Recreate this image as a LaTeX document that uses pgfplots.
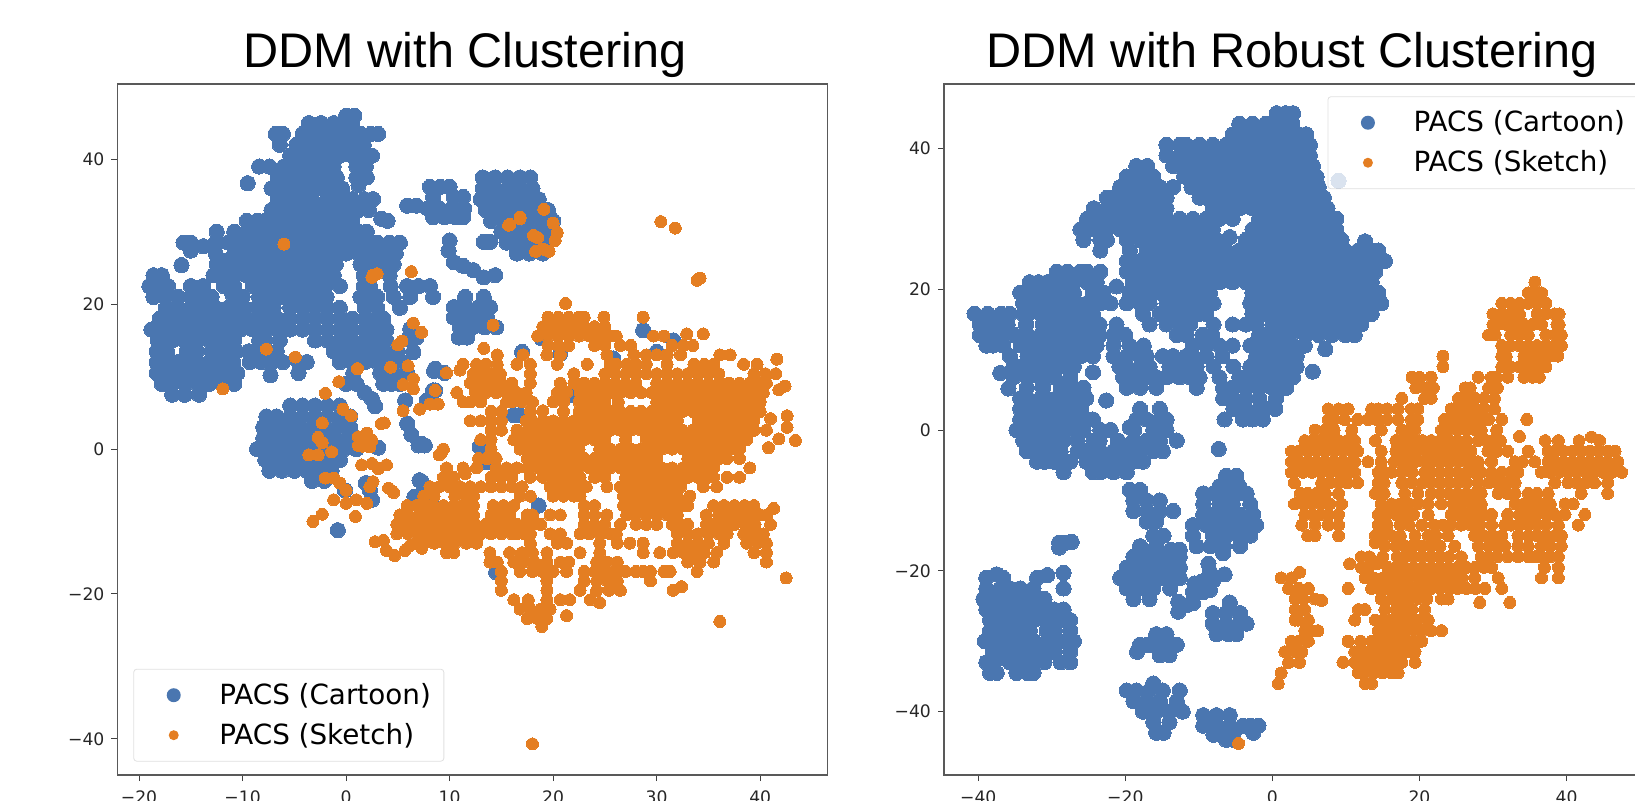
\documentclass[border=0pt]{standalone}
\usepackage{pgfplots}
\pgfplotsset{compat=1.18}
\usepackage{fontspec}
\setmainfont{DejaVu Sans}
\newfontfamily\titlefont{Liberation Sans}
\definecolor{cblue}{HTML}{4A76B0}
\definecolor{corange}{HTML}{E47E22}
\pgfplotsset{
 chart/.style={scale only axis,width=355pt,height=345.5pt,anchor=south west,
  axis line style={draw=black!65,line width=0.85pt},
  tick style={draw=black!75,line width=0.5pt},
  major tick length=3pt,tick align=outside,xtick pos=bottom,ytick pos=left,
  tick label style={font=\fontsize{8.6}{10}\selectfont,text=black!85},
  xticklabel style={yshift=-1.5pt},
  legend cell align=left,
  legend style={draw=black!12,rounded corners=1.5pt,fill=white,fill opacity=0.8,text opacity=1,
    font=\fontsize{13.9}{16}\selectfont,inner xsep=5pt,inner ysep=3pt,
    nodes={inner sep=1.5pt,minimum height=20pt}},
 },
 bl/.style={only marks,mark=*,mark size=3.8pt,color=cblue,mark options={draw=cblue,fill=cblue,line width=0pt},
   legend image code/.code={\path[draw=none,fill=none] (0,0) -- (36.3pt,0);\path[draw=none,fill=cblue,fill opacity=1] (15pt,0) circle (3.5pt);}},
 or/.style={only marks,mark=*,mark size=3pt,color=corange,mark options={draw=corange,fill=corange,line width=0pt},
   legend image code/.code={\path[draw=none,fill=none] (0,0) -- (36.3pt,0);\path[draw=none,fill=corange,fill opacity=1] (15pt,0) circle (2.5pt);}},
}
\begin{document}
\begin{tikzpicture}[x=1pt,y=1pt]
\path[use as bounding box] (0,0) rectangle (817.5,400);
\begin{axis}[chart,at={(58.75pt,12.5pt)},xmin=-22.08,xmax=46.5,ymin=-45,ymax=50.4,
 xtick={-20,-10,0,10,20,30,40},xticklabels={−20,−10,0,10,20,30,40},
 ytick={-40,-20,0,20,40},yticklabels={−40,−20,0,20,40},
 legend style={at={(axis cs:-20.55,-43.15)},anchor=south west}]
\addplot[bl] coordinates {
(0,46)(.8,46)
(-3.6,45)(-2.4,45)(-1.2,45)(0,45)(.6,45)
(-6.8,43.5)(-6.1,43.5)(-4.2,43.5)(-3,43.5)(-1.8,43.5)(-.6,43.5)(.6,43.5)(1.4,43.5)(2.4,43.5)(3.1,43.5)
(-6.4,42)(-4.8,42)(-3.6,42)(-2.4,42)(-1.2,42)(0,42)(1.2,42)(1.7,42)
(-5.4,40.5)(-4.2,40.5)(-3,40.5)(-1.8,40.5)(-.6,40.5)(.6,40.5)(1.8,40.5)(2.5,40.5)
(-8.4,39)(-7.4,39)(-6,39)(-4.8,39)(-3.6,39)(-2.4,39)(-1.2,39)(1,39)(1.9,39)
(-6.6,37.5)(-5.4,37.5)(-4.2,37.5)(-3,37.5)(-1.8,37.5)(-.9,37.5)(1,37.5)(2,37.5)
(-9.5,36.7)(-7.2,36)(-6,36)(-4.8,36)(-3.6,36)(-2.4,36)(-1.2,36)(-.4,36)(1.2,36.4)
(-6.6,34.5)(-5.4,34.5)(-4.2,34.5)(-3.3,34.5)(-1.8,34.5)(-.6,34.5)(.6,34.5)(1.8,34.5)(2.6,34.5)
(-7.2,33)(-6,33)(-4.8,33)(-3.6,33)(-2.4,33)(-1.2,33)(0,33)(1.2,33)(2.2,33)
(-9.6,31.5)(-8.6,31.5)(-7.8,31.5)(-6.6,31.5)(-5.4,31.5)(-4.2,31.5)(-3,31.5)(-1.8,31.5)(-.6,31.5)(.6,31.5)(3.4,31.8)(4,31.5)
(-12.5,30)(-10.8,30)(-9.6,30)(-8.4,30)(-7.2,30)(-6,30)(-4.8,30)(-3.6,30)(-2.4,30)(-1.2,30)(0,30)(1.2,30)(2,30)
(-15.7,28.5)(-15,28.5)(-13.8,28)(-12.6,28.5)(-11.4,28.5)(-10.2,28.5)(-9,28.5)(-7.8,28.5)(-6.6,28.5)(-5.4,28.5)(-4.2,28.5)(-3,28.5)(-1.8,28.5)(-.6,28.5)(.6,28.5)(1.8,28.5)(3,28.5)(4.2,28.5)(5.2,28.5)
(-15,27.4)(-12.6,27)(-10.8,27)(-9.6,27)(-8.4,27)(-7.2,27)(-6,27)(-4.8,27)(-3.6,27)(-2.4,27)(-1.2,27)(0,27)(1.2,27)(2.4,27)(3.6,27)(4.8,27)
(-15.9,25.4)(-12.5,25.5)(-10.2,25.5)(-9,25.5)(-7.8,25.5)(-6.6,25.5)(-5.4,25.5)(-4.2,25.5)(-3,25.5)(-1.8,25.5)(-1,25.5)(1.4,25.5)(2.4,25.5)(3.6,25.5)(4.6,25.5)
(-18.6,24)(-17.8,24)(-12.8,24)(-11.8,24)(-9.6,24)(-8.4,24)(-7.2,24)(-6,24)(-4.8,24)(-3.6,24)(-2.4,24)(-1.2,24)(1.7,24)(4.2,24)
(-19,22.5)(-17.9,22.5)(-17.2,22.5)(-15,22.5)(-13.8,22.5)(-11.8,22.5)(-9,22.5)(-7.8,22.5)(-6.6,22.5)(-5.4,22.5)(-4.2,22.5)(-3,22.5)(-2,22.5)(-.6,22.5)(1.7,22.5)(2.3,22.5)(4.3,22.5)(5.9,22.5)(7,22.5)(8.1,22.5)
(-18.6,21)(-17.4,21)(-16.2,21)(-15,21)(-13.8,21)(-13,21)(-8.4,21)(-7.2,21)(-6,21)(-4.8,21)(-3.6,21)(-2.4,21)(-1.9,21)(1.4,21)(2.4,21)(3,21)(4.6,21)(6.2,21)(8.4,21)
(-17.4,19.5)(-16.2,19.5)(-15,19.5)(-13.8,19.5)(-12.6,19.5)(-11.4,19.5)(-10.8,19.5)(-7,19.5)(-5.4,19.5)(-4.2,19.5)(-3,19.5)(-1.8,19.5)(-.6,19.5)(1.8,19.5)(3,19.5)(5.2,19.5)
(-18,18)(-16.8,18)(-15.6,18)(-14.4,18)(-13.2,18)(-12,18)(-10.8,18)(-9.6,18)(-8.4,18)(-6.6,18)(-5.4,18)(-4.2,18)(-3,18)(-1.8,18)(-.6,18)(.6,18)(1.8,18)(3,18)(3.6,18)
(-18.8,16.5)(-17.4,16.5)(-16.2,16.5)(-15,16.5)(-13.8,16.5)(-12.6,16.5)(-11.4,16.5)(-10.2,16.5)(-9,16.5)(-6.6,16.5)(-5.4,16.5)(-4.2,16.5)(-3,16.5)(-1.8,16.5)(-.6,16.5)(.6,16.5)(1.8,16.5)(3,16.5)(3.9,16.5)(6.2,16.6)
(-18.2,15)(-16.8,15)(-15.6,15)(-14.4,15)(-13.2,15)(-12,15)(-10.8,15)(-8.4,15)(-6.4,15)(-3,15)(-1.8,15)(-.6,15)(.6,15)(1.8,15)(3,15)(3.9,15)(6,15.2)(6.8,15.4)
(-18.3,13.5)(-17.3,13.5)(-15.4,13.5)(-14.4,13.5)(-13,13.5)(-11.8,13.5)(-10.6,13.5)(-9.4,13.5)(-8.3,13.5)(-7.7,13.5)(-6.7,13.5)(-1.2,13.5)(0,13.5)(1.2,13.5)(2.4,13.5)(3.6,13.5)(5,13.5)(6.5,13.4)
(-18.3,12)(-17.2,12)(-16.3,12)(-15.4,12)(-14.4,12)(-13.2,12)(-12,12)(-10.9,12)(-9.3,12)(-8.2,12)(-7.2,12)(-6.1,12)(-4.6,12)(-3.8,12)(-.6,12)(.6,12)(1.8,12)(3,12)(4.2,12)(5.5,12)
(-18.3,10.5)(-17.2,10.5)(-16,10.5)(-14.8,10.5)(-13.6,10.5)(-12.4,10.5)(-11.2,10.5)(-10.5,10.5)(-7.3,10.2)(-4.6,10.5)(.7,10.5)(3.3,10.5)(4.5,10.5)(5.9,10.5)(8.5,10.8)(9.5,10.5)
(-17.8,9)(-16.8,9)(-15.6,9)(-14.4,9)(-13.2,9)(-12,9)(-10.8,9)(0,9)(1,9)(3.6,9)(4.4,9)(5.2,9)
(-16.8,7.5)(-15.6,7.5)(-14.2,7.5)(1.8,7.8)(2.5,6.9)(2.8,5.9)(5.7,6.7)(8.6,8.1)(8,6.5)(5.9,3.5)(6.3,2)(7,.5)(7.6,.5)(3.1,.2)
(-10.8,24)(-10.8,22.5)(-10,21)(-11,21.4)(-9.8,19.5)(-8.6,19.5)(-7.8,19.5)(-7.6,18)(-7.6,16.5)(-7.8,15)(-11.8,26)(-10.4,25.5)(-11.2,24.7)
(5.9,33.6)(6.8,33.6)(8.1,36.2)(9.1,36.2)(10,36.2)(8.4,34.8)(10.4,34.8)(11.3,34.8)(7.9,33.2)(9,33.2)(10.2,33.2)(11.4,33.2)(8.4,32)(9.5,32)(10.6,32)(11.3,32)
(13.3,28.6)(13.9,28.6)(10,28.8)(9.9,27.4)(10.4,25.8)(11.3,25.3)(12.3,24.7)(13.3,23.7)(14.4,24)
(11.5,21)(13.3,21)(10.4,19.6)(11.6,19.6)(12.8,19.6)(13.9,19.6)(10.4,18.2)(11.5,18.2)(12.6,18.2)(13.6,18.2)(11,16.8)(12.2,16.8)(13.4,16.8)(14.5,16.8)(10.9,15.4)(11.7,15.4)
(13.2,37.5)(14.4,37.5)(15.6,37.5)(16.8,37.5)(17.8,37.5)(13.2,36)(14.4,36)(15.6,36)(16.8,36)(18,36)(13,34.5)(14.2,34.5)(15.4,34.5)(16.6,34.5)(17.8,34.5)(18.6,34.5)
(13.5,33)(14.7,33)(15.9,33)(17.1,33)(18.3,33)(19.5,33)(14,31.5)(15.2,31.5)(16.4,31.5)(17.6,31.5)(18.8,31.5)(20,31.5)(15,30)(16.2,30)(17.4,30)(18.6,30)(19.8,30)(15.5,28.5)(16.7,28.5)(17.9,28.5)(19,28.5)(16.5,27)(17.7,27)(19,27)
(-5.4,6)(-4.2,6)(-3,6)(-1.8,6)(-.6,6)(-7.7,4.5)(-6.7,4.5)(-5.4,4.5)(-4.2,4.5)(-3,4.5)(-1.8,4.5)(-.6,4.5)(.4,4.5)
(-8,3)(-6.8,3)(-5.6,3)(-4.4,3)(-3.2,3)(-2,3)(-.8,3)(.4,3)(-8,1.5)(-7.1,1.5)(-5.9,1.5)(-4.7,1.5)(-3.5,1.5)(-2.3,1.5)(-1.1,1.5)(.2,1.5)
(-8.6,0)(-7.4,0)(-6.2,0)(-5,0)(-3.8,0)(-2.6,0)(-1.4,0)(-.2,0)(1,0)(-7.8,-1.5)(-6.6,-1.5)(-5.4,-1.5)(-4.2,-1.5)(-3,-1.5)(-1.8,-1.5)(-.6,-1.5)
(-7.4,-3)(-6.2,-3)(-5,-3)(-3.8,-3)(-2.6,-3)(-1.4,-3)(-3.3,-4.4)(-2.1,-4.4)
(12.9,.3)(13.6,-1.5)(7.3,-4.5)(1.9,-4.7)(2.3,-5.7)(-.1,-5.7)(2.5,-7)(6.6,-6.6)(8.4,-7.7)(-.8,-11.2)(14.5,-17)
(28.7,16.4)(31.6,15)(30,13.4)(25.8,12.5)(17,13.4)(20.7,13.2)(18.9,15.3)(8.6,11.1)(8.4,8.1)(7.8,6.7)(16.2,4.7)(16.8,4.7)(22,7.4)(13,.3)(13.6,-1.8)(18.6,-7.8)(8.4,-8)(7.3,.7)(7.1,-4.3)(7.3,-6.2)
};
\addlegendentry{PACS (Cartoon)}
\addplot[or] coordinates {
(-6,28.3)(2.5,23.7)(3,24.2)(6.3,24.5)(-11.9,8.3)(-7.7,13.8)(-4.9,12.7)(1.1,11.1)(-.7,9.3)(-2,7.7)(4.3,11.3)(6,11.5)(6.5,17.4)(7.3,16.1)(5,14.4)(5.4,14.9)(9.7,10.5)(5.5,8.9)(6.5,9.7)(6.5,8.3)(8.6,8.1)(8.1,6.2)(8.9,6.2)(5.5,5.3)(7.1,5.5)(-.3,5.5)(.5,4.6)(-2.3,3.6)(-2.7,1.6)(-2.3,.9)(-1.4,-.4)(1.2,1.7)(2,2.2)(2.5,1.2)(1.6,.4)(2.3,.3)(1.2,.5)(1.7,1.2)(3.4,3.5)(3.7,3.6)(9.2,-.5)(14.2,17.1)(15.8,31)(16.8,32)
(15.7,30.9)(16.8,31.8)(19.1,33.1)(18.1,29.5)(20,31.2)(20.4,29.9)(20.2,28.8)(19.6,27.3)(19,27.6)(18.3,27.3)(18.5,29.2)(30.4,31.4)(31.8,30.5)(2.6,24)(21.2,20.1)
(33.9,23.3)(34.2,23.6)(18,-40.7)(42.5,-17.8)(36.1,-23.8)
(-3.6,-.8)(-2.7,-.8)(-2,-4)(-1.2,-4)(-.6,-4.7)(0,-5.7)(-1.2,-7)(0,-7.5)(1,-7)(2,-7.5)(2.3,-5.2)(2.6,-4.5)(.9,-9.3)(-2.3,-9)(-3.2,-10)(4.6,-6)(4.1,-5.4)(1.5,-2.2)(2.5,-2)(3.1,-2.7)(3.9,-2.2)
(2.8,-12.8)(3.6,-12.6)(3.9,-14)(4.7,-14.7)(5.7,-14)(6.2,-13.3)(7.3,-13.7)(8,-12.6)
(19.5,18.2)(20.5,18.2)(21.5,18.2)(22.5,18.2)(23,18.2)(24.9,18.2)(28.7,18.2)
(19,16.9)(20,16.9)(21,16.9)(22,16.9)(23,16.9)(24,16.9)(25,16.9)
(18.5,15.6)(19.5,15.6)(20.5,15.6)(21.5,15.6)(22.5,15.6)(23.5,15.6)(24.5,15.6)(25.5,15.6)(26.1,15.6)(29.7,15.6)(30.7,15.6)(32.9,15.9)(34.5,15.9)
(19.5,14.3)(20.5,14.3)(21.5,14.3)(24,14.3)(25,14.3)(26.5,14.3)(27.5,14.3)(31.5,14.3)(32.6,14.3)(33.5,14.3)
(13.3,13.9)(14.6,13)(17.1,13)(19.4,13)(20.7,13)(25.2,13)(27.8,13)(29,13)(30,13)(31,13)(32.3,13)(36.1,13)(37.1,13)
(11.3,11.7)(12.6,11.7)(13.5,11.7)(14.6,11.7)(16.5,11.7)(17.8,11.7)(20.4,11.7)(23.3,11.7)(25.5,11.7)(26.1,11.7)(27.1,11.7)(28,11.7)(29,11.7)(31,11.7)(33.6,11.7)(34.6,11.7)(35.5,11.7)(38.4,11.7)(39.7,11.7)(41.6,12.4)
(11,10.9)(12.3,10.4)(13.3,10.4)(14.3,10.4)(14.9,10.4)(17.8,10.4)(22,10.4)(25,10.4)(26,10.4)(27,10.4)(28,10.4)(29,10.4)(30,10.4)(31,10.4)(32,10.4)(33,10.4)(34,10.4)(35,10.4)(36,10.4)(39.4,10.4)(40.5,10.4)(41.5,10.4)
(12,9.1)(13,9.1)(14,9.1)(15,9.1)(16,9.1)(17.8,9.1)(20.7,9.1)(22,9.1)(23,9.1)(24,9.1)(25,9.1)(26,9.1)(27,9.1)(28,9.1)(30,9.1)(31,9.1)(32,9.1)(33,9.1)(34,9.1)(35,9.1)(36,9.1)(37,9.1)(38,9.1)(39,9.1)(40,9.1)(40.6,9.1)
(10.7,7.8)(12.5,7.8)(13.5,7.8)(14.5,7.8)(15.5,7.8)(16.5,7.8)(17.4,7.8)(20.4,7.8)(21.3,7.8)(22.6,7.8)(23.5,7.8)(24.5,7.8)(25.5,7.8)(26.5,7.8)(27.5,7.8)(28.5,7.8)(29.5,7.8)(30.5,7.8)(31.5,7.8)(32.5,7.8)(33.5,7.8)(34.5,7.8)(35.5,7.8)(36.5,7.8)(37.5,7.8)(38.5,7.8)(39.5,7.8)(40.3,7.8)(41.8,8.2)(42.4,8.7)
(11.3,6.5)(12,6.5)(13,6.5)(15.5,6.5)(16,6.5)(17,6.5)(18,6.5)(20,6.5)(21,6.5)(22.5,6.5)(23,6.5)(24,6.5)(25,6.5)(26.3,6.5)(30,6.5)(31,6.5)(32,6.5)(33,6.5)(34,6.5)(35,6.5)(36,6.5)(37,6.5)(38,6.5)(39,6.5)(40,6.5)
(14,5.2)(15,5.2)(17.8,5.2)(19,5.3)(21,5.2)(22.5,5.2)(23.5,5.2)(24.5,5.2)(25.5,5.2)(26.5,5.2)(27.5,5.2)(28.5,5.2)(29.5,5.2)(30.5,5.2)(31.5,5.2)(32.5,5.2)(33.5,5.2)(34.5,5.2)(35.5,5.2)(36.5,5.2)(37.5,5.2)(38.5,5.2)(39.5,5.2)(40,5.2)(41,4.2)(42.6,4.6)
(12,3.9)(13,3.9)(14,3.9)(15,3.9)(17.4,3.9)(18,3.9)(19,3.9)(20,3.9)(21,3.9)(22,3.9)(23,3.9)(24,3.9)(25,3.9)(26,3.9)(27,3.9)(28,3.9)(29,3.9)(30,3.9)(31,3.9)(32,3.9)(34,3.9)(35,3.9)(36,3.9)(37,3.9)(38,3.9)(39,3.9)(39.4,3.9)
(14,2.6)(15,2.6)(16.5,2.6)(17.5,2.6)(18.5,2.6)(19.5,2.6)(20.5,2.6)(21.5,2.6)(22.5,2.6)(23.5,2.6)(24.5,2.6)(25.5,2.6)(26.5,2.6)(27.5,2.6)(28.5,2.6)(29.5,2.6)(30.5,2.6)(31.5,2.6)(32.5,2.6)(33.5,2.6)(34.5,2.6)(35.5,2.6)(36.5,2.6)(37.5,2.6)(38.5,2.6)(39.4,2.6)(40.6,2.6)(42.6,3)
(13,1.3)(14,1.3)(16.2,1.3)(17,1.3)(18,1.3)(19,1.3)(20,1.3)(21,1.3)(22,1.3)(23,1.3)(24,1.3)(25,1.3)(27,1.3)(29,1.3)(30,1.3)(31,1.3)(32,1.3)(33,1.3)(34,1.3)(35,1.3)(36,1.3)(37,1.3)(38,1.3)(38.7,1.3)(41.8,1.4)(43.4,1.2)
(9.4,0)(9,-.8)(14,0)(16.8,0)(17.5,0)(18.5,0)(19.5,0)(20.5,0)(21.5,0)(22.5,0)(24.5,0)(25.5,0)(26.5,0)(27.5,0)(28.5,0)(29.5,0)(30.5,0)(31.5,0)(32.5,0)(33.5,0)(34.5,0)(35.5,0)(36.5,0)(37.5,0)(38,0)(40.8,.2)
(12.8,-1.3)(13.6,-1.3)(14.5,-1.3)(17.5,-1.3)(18,-1.3)(19,-1.3)(20,-1.3)(21,-1.3)(22,-1.3)(23,-1.3)(24,-1.3)(25,-1.3)(26,-1.3)(27,-1.3)(28,-1.3)(29,-1.3)(30,-1.3)(33,-1.3)(34,-1.3)(35,-1.3)(36,-1.3)(36.8,-1.3)(38,-1.3)
(9.7,-2.6)(11.3,-2.6)(12.6,-2.6)(14.5,-2.6)(15.5,-2.6)(16.5,-2.6)(17.5,-2.6)(18.5,-2.6)(19.5,-2.6)(20.5,-2.6)(21.5,-2.6)(22.5,-2.6)(23.5,-2.6)(24.5,-2.6)(25.5,-2.6)(26.5,-2.6)(27.5,-2.6)(28.5,-2.6)(29.5,-2.6)(30.5,-2.6)(31.5,-2.6)(32.5,-2.6)(33.5,-2.6)(34.5,-2.6)(35.5,-2.6)(39,-2.6)
(9.4,-3.9)(10.4,-3.9)(11.5,-3.4)(14,-3.9)(15,-3.9)(16,-3.9)(17.8,-3.9)(19,-3.9)(20,-3.9)(21,-3.9)(22,-3.9)(22.6,-3.9)(24,-3.9)(25,-3.9)(27,-3.9)(28,-3.9)(29,-3.9)(30,-3.9)(31,-3.9)(32,-3.9)(33,-3.9)(34,-3.9)(35,-3.9)(35.5,-3.9)(36.8,-3.9)(38,-3.9)
(8.1,-5.2)(9,-5.2)(10,-5.2)(11,-5.2)(12,-5.2)(13,-5.2)(14,-5.2)(15,-5.2)(16,-5.2)(17,-5.2)(19.7,-5.2)(20.5,-5.2)(21.5,-5.2)(22.5,-5.2)(23.2,-5.2)(25.2,-5.2)(26.5,-5.2)(27.5,-5.2)(28.5,-5.2)(29.5,-5.2)(30.5,-5.2)(31.5,-5.2)(32.3,-5.2)(34.5,-5.2)(35.8,-5.2)
(7.5,-6.5)(8.5,-6.5)(10.5,-6.5)(11.5,-6.5)(12.3,-6.5)(16.8,-6.5)(17.8,-6.5)(20,-6.5)(21,-6.5)(22,-6.5)(22.6,-6.5)(26.8,-6.5)(28,-6.5)(29,-6.5)(30,-6.5)(31,-6.5)(32,-6.5)(33.2,-6.5)
(5.9,-7.8)(6.8,-7.8)(7.6,-7.8)(8.4,-7.8)(9.4,-7.8)(10.4,-7.8)(11.4,-7.8)(12.3,-7.8)(14.2,-7.8)(15.2,-7.8)(16.2,-7.8)(23,-7.8)(24,-7.8)(26.8,-7.8)(27.5,-7.8)(28.5,-7.8)(29.5,-7.8)(30.5,-7.8)(31.5,-7.8)(32.5,-7.8)(33,-7.8)(35.5,-7.8)(36.5,-7.8)(37.5,-7.8)(38.5,-7.8)(39.4,-7.8)(41.3,-8.2)
(5.2,-9.1)(6,-9.1)(7,-9.1)(8,-9.1)(9,-9.1)(10,-9.1)(11,-9.1)(12,-9.1)(12.3,-9.1)(14,-9.1)(15,-9.1)(15.8,-9.1)(17.5,-9.1)(18,-9.1)(19.7,-9.1)(20.7,-9.1)(23,-9.1)(24,-9.1)(25.2,-9.1)(27.1,-9.1)(28,-9.1)(29,-9.1)(30,-9.1)(31,-9.1)(32,-9.1)(34.8,-9.1)(36,-9.1)(37,-9.1)(38,-9.1)(39,-9.1)(40,-9.1)(40.6,-9.1)
(4.9,-10.4)(5.5,-10.4)(6.5,-10.4)(7.5,-10.4)(8.5,-10.4)(9.5,-10.4)(10.5,-10.4)(11.5,-10.4)(12.5,-10.4)(13.5,-10.4)(14.5,-10.4)(15.5,-10.4)(16.5,-10.4)(17.2,-10.4)(18,-10.4)(18.8,-10.4)(23,-10.4)(24,-10.4)(25,-10.4)(26.5,-10.4)(28,-10.4)(29,-10.4)(30,-10.4)(31.5,-10.4)(32.3,-10.4)(33,-10.4)(34.8,-10.4)(35.5,-10.4)(36.5,-10.4)(37.5,-10.4)(38.5,-10.4)(39.5,-10.4)(41,-10.4)
(4.9,-11.7)(6,-11.7)(7,-11.7)(8,-11.7)(9,-11.7)(10,-11.7)(11,-11.7)(12,-11.7)(13,-11.7)(14,-11.7)(15,-11.7)(16,-11.7)(16.5,-11.7)(17.2,-11.7)(17.8,-11.7)(19.7,-11.7)(20.7,-11.7)(22.6,-11.7)(23.5,-11.7)(24.5,-11.7)(25.5,-11.7)(26.1,-11.7)(32,-11.7)(33,-11.7)(34,-11.7)(35,-11.7)(36,-11.7)(36.8,-11.7)(38.4,-11.7)(39.4,-11.7)(40.3,-11.7)
(6.8,-13)(7.5,-13)(8.5,-13)(9.5,-13)(10.5,-13)(11.6,-13)(12.6,-13)(17.8,-13)(20.4,-13)(21.3,-13)(24.5,-13)(26.2,-13)(27.4,-13)(28.7,-13)(32,-13)(33,-13)(34,-13)(35,-13)(36.5,-13)(38.7,-13)(39.7,-13)(40.6,-13)
(9.7,-14.3)(10.4,-14.3)(13.9,-14.3)(15.8,-14.3)(17,-14.3)(18,-14.3)(19.4,-14.3)(22.6,-14.3)(24.5,-14.3)(28.7,-14.3)(30.3,-14.3)(31.6,-14.3)(32.6,-14.3)(33.6,-14.3)(34.6,-14.3)(35.8,-14.3)(39.4,-14.3)(40.6,-14.3)
(13.9,-15.6)(14.6,-15.6)(16.2,-15.6)(17.2,-15.6)(18.2,-15.6)(19.4,-15.6)(20.7,-15.6)(21.5,-15.6)(24.2,-15.6)(25.2,-15.6)(26.2,-15.6)(33,-15.6)(34.2,-15.6)(35.5,-15.6)(40.6,-15.6)
(15,-16.9)(16.8,-16.9)(18,-16.9)(19,-16.9)(20,-16.9)(21.3,-16.9)(23,-16.9)(24,-16.9)(25,-16.9)(26,-16.9)(27,-16.9)(28,-16.9)(28.7,-16.9)(29.4,-16.9)(30.7,-16.9)(31.3,-16.9)(33.9,-16.9)
(15,-18.2)(19.4,-18.2)(23,-18.2)(24.2,-18.2)(25.2,-18.2)(26.2,-18.2)(29.4,-18.2)
(15,-19.5)(19.4,-19.5)(22.6,-19.5)(24.2,-19.5)(25.4,-19.5)(26.5,-19.5)(31.6,-19.5)(32.4,-19)
(16.2,-20.8)(17.6,-20.8)(19.4,-20.8)(20.7,-20.8)(21.6,-20.8)(23.6,-20.8)(24.5,-21.2)
(16.8,-22.1)(17.8,-22.1)(18.8,-22.1)(19.7,-22.1)(17.5,-23.4)(18.5,-23.4)(19.4,-23.4)(21.3,-23)(18.9,-24.5)
};
\addlegendentry{PACS (Sketch)}
\end{axis}
\begin{axis}[chart,at={(472pt,12.5pt)},xmin=-44.66,xmax=51.9,ymin=-49,ymax=49.15,
 xtick={-40,-20,0,20,40},xticklabels={−40,−20,0,20,40},
 ytick={-40,-20,0,20,40},yticklabels={−40,−20,0,20,40},
 legend style={at={(axis cs:7.5,47.4)},anchor=north west}]
\addplot[bl] coordinates {
(.6,45)(1.8,45)(2.8,45)
(-4.5,43.5)(-2.7,43.5)(-.9,43.5)(.9,43.5)(2.7,43.5)
(-5.4,42)(-3.6,42)(-1.8,42)(0,42)(1.8,42)(3.6,42)(4.6,42)
(-14.4,40.5)(-12.6,40.5)(-11.7,40.5)(-9.9,40.5)(-8.1,40.5)(-6.3,40.5)(-4.5,40.5)(-2.7,40.5)(-.9,40.5)(.9,40.5)(2.7,40.5)(4.5,40.5)(5.1,40.5)
(-14.4,39)(-12.6,39)(-10.8,39)(-9,39)(-7.2,39)(-5.4,39)(-3.6,39)(-1.8,39)(0,39)(1.8,39)(3.6,39)(5.1,39)
(-18.5,37.5)(-17,37.5)(-13.5,37.5)(-11.7,37.5)(-9.9,37.5)(-8.1,37.5)(-6.3,37.5)(-4.5,37.5)(-2.7,37.5)(-.9,37.5)(.9,37.5)(2.7,37.5)(4.5,37.5)(5.5,37.5)
(-19.8,36)(-18,36)(-16.2,36)(-12,36)(-10.8,36)(-9,36)(-7.2,36)(-5.4,36)(-3.6,36)(-1.8,36)(0,36)(1.8,36)(3.6,36)(5.4,36)(6,36)
(-20.7,34.5)(-18.9,34.5)(-17.1,34.5)(-15.3,34.5)(-13.5,34.5)(-11,34.5)(-9.9,34.5)(-8.1,34.5)(-6.3,34.5)(-4.5,34.5)(-2.7,34.5)(-.9,34.5)(.9,34.5)(2.7,34.5)(4.5,34.5)(6.3,34.5)
(-22.5,33)(-21.6,33)(-19.8,33)(-18,33)(-16.2,33)(-14.4,33)(-9.9,33)(-9,33)(-7.2,33)(-5.4,33)(-3.6,33)(-1.8,33)(0,33)(1.8,33)(3.6,33)(5.4,33)(7,33)
(-24.3,31.5)(-22.5,31.5)(-20.7,31.5)(-18.9,31.5)(-17.1,31.5)(-15.3,31.5)(-14.4,31.5)(-8.1,31.5)(-6.3,31.5)(-4.5,31.5)(-2.7,31.5)(-.9,31.5)(.9,31.5)(2.7,31.5)(4.5,31.5)(6.3,31.5)(7.5,31.5)
(-25.2,30)(-23.4,30)(-21.6,30)(-19.8,30)(-18,30)(-16.2,30)(-14.4,30)(-12.6,30)(-10.8,30)(-9,30)(-7.2,30)(-5.4,30)(-1.8,30)(0,30)(1.8,30)(3.6,30)(5.4,30)(7.2,30)(8.7,30)
(-26.1,28.5)(-24.3,28.5)(-22.5,28.5)(-20.7,28.5)(-18.9,28.5)(-17.1,28.5)(-15.3,28.5)(-13.5,28.5)(-11.7,28.5)(-9.9,28.5)(-8.1,28.5)(-2.7,28.5)(-.9,28.5)(.9,28.5)(2.7,28.5)(4.5,28.5)(6.3,28.5)(8.1,28.5)(8.7,28.5)
(-25.7,27)(-23.4,27)(-22.5,27)(-19.8,27)(-18,27)(-16.2,27)(-14.4,27)(-12.6,27)(-10.8,27)(-9,27)(-7.6,27)(-5.8,27.4)(-3.6,27)(-1.8,27)(0,27)(1.8,27)(3.6,27)(5.4,27)(7.2,27)(9,27)(9.4,27)(12.6,26.8)
(-23.4,25.5)(-19.4,25.5)(-17.1,25.5)(-15.3,25.5)(-13.5,25.5)(-11.7,25.5)(-9.9,25.5)(-8.1,25.5)(-6.3,25.5)(-4.5,25.5)(-2.7,25.5)(-.9,25.5)(.9,25.5)(2.9,25.5)(4.5,25.5)(6.3,25.5)(8.1,25.5)(9.9,25.5)(11.7,25.5)(13.5,25.5)(14.4,25.5)
(-19.8,24)(-18,24)(-16.2,24)(-14.4,24)(-12.6,24)(-10.8,24)(-9,24)(-7.2,24)(-5.4,24)(-3.6,24)(-1.8,24)(0,24)(1.8,24)(3.6,24)(5.4,24)(7.2,24)(9,24)(10.8,24)(12.6,24)(14.4,24)(15.3,24)
(-29.3,22.5)(-27.9,22.5)(-26.1,22.5)(-25.2,22.5)(-23.4,22.5)(-19.8,22.5)(-18.9,22.5)(-17.1,22.5)(-15.3,22.5)(-13.5,22.5)(-11.7,22.5)(-9.9,22.5)(-8.1,22.5)(-6.3,22.5)(-4.5,22.5)(-2.7,22.5)(-.9,22.5)(.9,22.5)(2.7,22.5)(4.5,22.5)(6.3,22.5)(8.1,22.5)(9.9,22.5)(11.7,22.5)(13.5,22.5)(14,22.5)
(-33,21)(-31.8,21)(-30.6,21)(-28.8,21)(-27,21)(-25.2,21)(-23.9,21)(-21.2,20.4)(-19,21)(-17.6,21)(-16.2,21)(-14.4,21)(-12.6,21)(-10.8,21)(-9,21)(-7.2,21)(-5.4,21)(-3.6,21)(-1.8,21)(0,21)(1.8,21)(3.6,21)(5.4,21)(7.2,21)(9,21)(10.8,21)(12.6,21)(13.5,21)
(-34.3,19.5)(-33.3,19.5)(-31.5,19.5)(-29.7,19.5)(-27.9,19.5)(-27,19.5)(-24.4,19.5)(-23,19.5)(-19.4,19.5)(-18.2,19.5)(-17.1,19.5)(-15.3,19.5)(-13.5,19.5)(-11.7,19.5)(-9.9,19.5)(-8.5,19.5)(-2.7,19.5)(-.9,19.5)(.9,19.5)(2.7,19.5)(4.5,19.5)(6.3,19.5)(8.1,19.5)(9.9,19.5)(11.7,19.5)(13.5,19.5)(14.4,19.5)
(-33.9,18)(-32.4,18)(-30.6,18)(-28.8,18)(-28,18)(-26.5,18)(-25.2,18)(-23.4,18)(-22,18)(-19.8,18)(-18,18)(-16.7,18)(-14.4,18)(-12.6,18)(-10.8,18)(-9,18)(-8,18)(-3,18)(-1.8,18)(0,18)(1.8,18)(3.6,18)(5.4,18)(7.2,18)(9,18)(10.8,18)(12.6,18)(14.4,18)(14.8,18)
(-40.5,16.5)(-38.7,16.5)(-36.9,16.5)(-35.7,16.5)(-33.9,16.5)(-33.3,16.5)(-31.5,16.5)(-29.8,16.5)(-28.5,16.5)(-27.9,16.5)(-26.1,16.5)(-25.7,16.5)(-24.4,16.5)(-17.6,16.5)(-15.3,16.5)(-13.5,16.5)(-11.7,16.5)(-9.9,16.5)(-9,16.5)(-2.7,16.5)(-.9,16.5)(.9,16.5)(2.7,16.5)(4.5,16.5)(6.3,16.5)(8.1,16.5)(9.9,16.5)(11.7,16.5)(13.5,16.5)
(-39.8,15)(-37.8,15)(-36,15)(-33.5,15)(-31.2,15)(-29.8,15)(-28.8,15)(-27,15)(-25.2,15)(-23.5,15)(-21.2,15)(-16.7,15)(-14.4,15)(-12.6,15)(-11.2,15)(-8,15)(-5.4,15)(-3.6,15)(-2.2,15)(0,15)(1.8,15)(3.6,15)(5.4,15)(7.2,15)(9,15)(10.8,15)(12.1,15)
(-39.8,13.5)(-38.7,13.5)(-36.9,13.5)(-35.1,13.5)(-33.3,13.5)(-31.5,13.5)(-29.7,13.5)(-27.9,13.5)(-26.1,13.5)(-24.3,13.5)(-23.5,13.5)(-21.6,13.5)(-20,13.5)(-13,13.5)(-11.7,13.5)(-9.5,13.5)(-8.2,13.5)(-1.8,13.5)(-.9,13.5)(.9,13.5)(2.4,13.5)(4.5,13.5)(6.3,13.5)(8.1,13.5)(9.9,13.5)(11.2,13.5)
(-38.9,12)(-38,12)(-36.6,12)(-34.2,12)(-32.4,12)(-30.6,12)(-28.8,12)(-27,12)(-25.2,12)(-23.9,12)(-21.6,12)(-19.4,12)(-17.5,12)(-10.8,12)(-9,12)(-7.2,12)(-5.4,12)(-3,12)(-1.8,12)(0,12)(1.8,12)(2.8,12)(4.4,12)(7.2,11.5)
(-35.7,10.5)(-33.3,10.5)(-31.5,10.5)(-29.7,10.5)(-27.9,10.5)(-26.1,10.5)(-24.4,10.5)(-21.6,10.5)(-19.8,10.5)(-18,10.5)(-17.1,10.5)(-14.9,10.5)(-13.5,10.5)(-11.7,10.5)(-10.8,10.5)(-9,10.5)(-6.8,10.5)(-2.2,10.5)(-.9,10.5)(.9,10.5)(2.7,10.5)(3.3,10.5)
(-35.2,9)(-34.2,9)(-32.4,9)(-30.6,9)(-28.8,9)(-27,9)(-24.4,8.2)(-20.8,9)(-19.8,9)(-18,9)(-16.7,9)(-14,9)(-12.6,9)(-10.8,9)(-10.3,9)(-8,9)(-5.3,9)(-3,9)(-1.8,9)(0,9)(1.8,9)(3.3,9)(-37,8.1)(5.5,8.3)
(-35.2,7.5)(-33.3,7.5)(-31.5,7.5)(-29.7,7.5)(-27.5,7.5)(-20.3,7.5)(-18.9,7.5)(-17.1,7.5)(-15.8,7.5)(-14.4,7.5)(-12.6,7.5)(-11.2,7.5)(-9.9,7.5)(-7.2,7.5)(-4.5,7.5)(-2.7,7.5)(-.9,7.5)(.9,7.5)(2.8,7.5)
(-35.9,5.9)(-33.4,6)(-31.2,6)(-28.8,6)(-27,6)(-25.7,6)(-19.8,6)(-18,6)(-15.8,6)(-10.3,6)(-6.7,6)(-5.4,6)(-3.6,6)(-1.8,6)(0,6)(1.9,6)
(-34.3,4.5)(-33.3,4.5)(-31.5,4.5)(-30.7,4.5)(-29.4,4.5)(-28.4,4.5)(-27.5,4.5)(-26.6,4.5)(-25.3,4.5)(-22.6,4.2)(-6.7,4.5)(-5.3,4.5)(-3.6,4.5)(-1.8,4.5)(.5,4.5)
(-34.3,3)(-33.3,3)(-32.4,3)(-30.6,3)(-29.4,3)(-28.4,3)(-27,3)(-26,3)(-18,3)(-15.3,3)(-5.3,3)(-3.6,3)(-1.8,3)(-1,3)(.4,3)
(-34.3,1.5)(-33.3,1.5)(-31.5,1.5)(-29.7,1.5)(-28,1.5)(-27,1.5)(-25.3,1.5)(-24.4,1.5)(-18.5,1.5)(-17.1,1.5)(-15.3,1.5)(-14.4,1.5)(-6.5,1.5)(-4,1.5)(-2.7,1.5)(-1.3,1.5)
(-34.8,0)(-33.6,0)(-32.4,0)(-30.6,0)(-28.8,0)(-27,0)(-26,0)(-25.7,0)(-23.4,0)(-22,0)(-19.4,.4)(-18.8,0)(-16.2,0)(-14.4,0)
(-33.9,-1.5)(-32.4,-1.5)(-31.5,-1.5)(-30.6,-1.5)(-29.7,-1.5)(-28.4,-1.5)(-26.5,-1.5)(-24.3,-1.5)(-23.5,-1.5)(-21,-1.5)(-18.9,-1.5)(-17.1,-1.5)(-15.3,-1.5)(-13,-1.5)
(-33.4,-3)(-32.2,-3)(-31.2,-3)(-30,-3)(-28.8,-3)(-26.5,-3)(-25.2,-3)(-24.6,-3)(-23.4,-3)(-21.6,-3)(-19.8,-3)(-18,-3)(-16.2,-3)(-14.9,-3)(-7.3,-2.7)
(-32,-4.5)(-31,-4.5)(-29.7,-4.5)(-28.8,-4.5)(-27.5,-4.5)(-25.3,-4.5)(-24.3,-4.5)(-22.5,-4.5)(-20.7,-4.5)(-18.9,-4.5)(-17.6,-4.5)
(-28.4,-6)(-24.4,-6)(-23.4,-6)(-21.6,-6)(-19.8,-6)
(-19.4,-8.5)(-18,-8.5)(-18.9,-10)(-17.1,-10)(-15.3,-10)(-18.9,-11.5)(-17.1,-11.5)(-15.3,-11.5)(-13.5,-11.5)(-17.1,-13)(-15.8,-13)(-16.2,-15)(-14.8,-15)(-15.8,-16.5)
(-18,-16.5)(-17.6,-17)(-15.6,-17)(-13.8,-17)(-12.6,-17)(-18.9,-18)(-17.1,-18)(-15.3,-18)(-13.5,-18)(-12.6,-18)
(-19.8,-19.5)(-18,-19.5)(-16.2,-19.5)(-14.4,-19.5)(-12.6,-19.5)(-20.7,-21)(-18.9,-21)(-17.1,-21)(-15.3,-21)(-13.5,-21)(-12.6,-21)(-19.8,-22.5)(-18,-22.5)(-16.2,-22.5)(-13.9,-22.5)(-18.9,-24)(-16.7,-24)
(-6.3,-6.5)(-4.9,-6.5)(-7.2,-8)(-5.4,-8)(-4.5,-8)(-9.4,-9)(-8,-9)(-6.3,-9)(-4.5,-9)(-3.5,-9)
(-9.4,-10.5)(-7.2,-10.5)(-5.4,-10.5)(-3,-10.5)(-9.4,-12)(-8.1,-12)(-6.3,-12)(-4.5,-12)(-2.6,-12)(-10.8,-13.5)(-9,-13.5)(-7.2,-13.5)(-5.4,-13.5)(-3.6,-13.5)(-2.2,-13.5)
(-10.8,-15)(-8.1,-15)(-6.3,-15)(-4.5,-15)(-3,-15)(-10.3,-16.5)(-8.4,-16.5)(-6.6,-16.5)(-4.4,-16.5)(-6.7,-17.5)
(-8.7,-19)(-8.5,-20.1)(-6.5,-20.5)(-9.6,-21.5)(-8,-21.3)(-10.6,-21.8)(-9.4,-23)(-10.8,-23)(-8.5,-22.7)(-12.8,-24.4)(-11.7,-24.9)(-10.8,-24.6)(-12.8,-25.8)
(-5.8,-24.5)(-8.1,-26)(-6.3,-26)(-4.4,-26)(-8.1,-27.5)(-6.3,-27.5)(-4.5,-27.5)(-3.5,-27.5)(-7.6,-29)(-6,-29)(-4.9,-29)
(-15.8,-29)(-14.4,-29)(-18,-30.5)(-17,-30.5)(-16.7,-30.5)(-14.8,-30.5)(-13,-30.5)(-18.4,-31.5)(-15.3,-32)(-14,-32)
(-16.2,-36)(-19.8,-37)(-18.5,-37)(-16.7,-37)(-14.9,-37)(-12.6,-37)(-18.9,-38.5)(-17.1,-38.5)(-15.3,-38.5)(-13,-38.5)(-17.6,-40)(-15.8,-40)(-14,-40)(-12.2,-40)(-16.2,-41.5)(-14,-41.5)(-15.8,-43)(-14.8,-43)
(-9.4,-40.5)(-7.6,-40.5)(-5.8,-40.5)(-9.4,-42)(-7.6,-42)(-5.8,-42)(-4,-42)(-3,-42)(-1.9,-42)(-8,-43.3)(-6.5,-43.3)(-5.3,-43.3)(-2.6,-43)(-6.3,-44)(-5.3,-44)
(-29,-16)(-28,-16)(-27.3,-15.9)(-29,-16.7)
(-38.9,-21)(-37.5,-20.5)(-36.6,-21)(-32,-21)(-30.6,-20.6)(-28.4,-20.3)(-38.9,-22.5)(-37,-22.5)(-35.7,-22.5)(-34.3,-22.5)(-32.5,-22.5)(-28.4,-22.5)
(-39.3,-24)(-37.8,-24)(-36,-24)(-34.2,-24)(-33,-24)(-32,-24)(-31,-24)(-38.9,-25.5)(-36.9,-25.5)(-35.1,-25.5)(-33.3,-25.5)(-31.5,-25.5)(-29.7,-25.5)(-28.4,-25.5)
(-38.4,-27)(-37.2,-27)(-36,-27)(-34.2,-27)(-32.5,-27)(-30.7,-27)(-28.8,-27)(-27.5,-27)(-38.4,-28.5)(-36.9,-28.5)(-35.1,-28.5)(-33,-28.5)(-30.7,-28.5)(-29.7,-28.5)(-27.5,-28.5)
(-39.1,-30)(-37.8,-30)(-36,-30)(-34.2,-30)(-32.4,-30)(-30.6,-30)(-28.8,-30)(-27,-30)(-38,-31.5)(-36.9,-31.5)(-35.1,-31.5)(-33.3,-31.5)(-31.5,-31.5)(-29.7,-31.5)(-27.5,-31.5)
(-38.9,-33)(-37.8,-33)(-35.7,-33)(-34.2,-33)(-32.4,-33)(-31,-33)(-28.8,-33)(-27.5,-33)(-38.4,-34.5)(-37.5,-34.5)(-34.8,-34.5)(-33.3,-34.5)(-32.5,-34.5)
(9,35.4)
};
\addlegendentry{PACS (Cartoon)}
\addplot[or] coordinates {
(-4.6,-44.5)
(35.7,21)(34.8,19.5)(35.7,19.5)(36.6,19.5)(31.2,18)(32.4,18)(33.6,18)(34.8,18)(36,18)(37.2,18)
(30,16.5)(31.2,16.5)(32.4,16.5)(33.6,16.5)(36,16.5)(37.2,16.5)(38.4,16.5)(39,16.5)
(30,15)(30.6,15)(31.8,15)(33,15)(34.2,15)(35.4,15)(36.6,15)(38.7,15)(39,15)
(29.4,13.5)(30.3,13.5)(32.4,13.5)(33.6,13.5)(34.8,13.5)(37.2,13.5)(38.4,13.5)(39.3,13.5)
(31.2,12)(32.4,12)(33.6,12)(34.8,12)(36,12)(37.2,12)(38.4,12)(39.3,12)
(31.2,10.5)(31.8,10.5)(34.2,10.5)(35.4,10.5)(36.6,10.5)(37.8,10.5)(38.8,10.5)(23.2,10.5)
(23.2,9)(31.2,9)(32.4,9)(33.6,9)(34.8,9)(36,9)(37.2,9)
(32,7.5)(34.2,7.5)(35.4,7.5)(36.3,7.5)(19,7.5)(20,7.5)(21.6,7.5)(28,7.5)(29.8,7.5)(30.5,7.5)
(19.5,6)(20.7,6)(21.9,6)(26.2,6)(26.9,6)(29.4,6)(30.6,6)
(20.7,4.5)(21.6,4.5)(17.6,4.5)(25.3,4.5)(26.4,4.5)(27.6,4.5)(28.8,4.5)(30.2,4.5)
(7.6,3)(9,3)(10.3,3)(13.5,3)(14.4,3)(15.6,3)(17.1,3)(18.9,3)(19.8,3)(24.3,3)(25.2,3)(26.4,3)(27.6,3)(28.8,3)(30.2,3)
(7.6,1.5)(8.4,1.5)(9.8,1.5)(11.6,1.5)(13,1.5)(14.2,1.5)(15.6,1.5)(17.1,1.5)(18.9,1.5)(19.8,1.5)(23.4,1.5)(24.6,1.5)(25.8,1.5)(27,1.5)(28.2,1.5)(29.4,1.5)(31.2,1.5)(34.6,1.5)
(5.8,0)(7.2,0)(8.4,0)(10.8,0)(14.8,0)(17.6,0)(18.6,0)(19.4,0)(23,0)(24,0)(25.2,0)(26.4,0)(27.6,0)(28.4,0)(30.5,0)(33.6,-.9)
(4.4,-1.5)(5.4,-1.5)(6.6,-1.5)(7.8,-1.5)(9,-1.5)(10.2,-1.5)(11.2,-1.5)(14,-1.5)(16.8,-1.5)(18,-1.5)(19.2,-1.5)(20.4,-1.5)(21.6,-1.5)(22.8,-1.5)(24,-1.5)(25.2,-1.5)(26.4,-1.5)(28,-1.5)(29.1,-1.5)(30,-1.5)(31,-1.5)(37.1,-1.5)(38.9,-1.5)(41.7,-1.5)(43.4,-1)(44.5,-1.5)
(2.6,-3)(3.6,-3)(4.8,-3)(6,-3)(7.2,-3)(8.4,-3)(9.6,-3)(10.8,-3)(11.6,-3)(14.8,-3)(16.8,-3)(17.4,-3)(18.6,-3)(19.8,-3)(21,-3)(22.2,-3)(23.4,-3)(24.6,-3)(25.8,-3)(27,-3)(29.3,-3)(30.6,-3)(32,-3)(34.8,-3)(37.5,-3)(38.4,-3)(39.6,-3)(40.8,-3)(42,-3)(43.2,-3)(44.4,-3)(45.6,-3)(46.6,-3)
(2.6,-4.5)(3.6,-4.5)(4.8,-4.5)(6,-4.5)(7.2,-4.5)(8.4,-4.5)(9.6,-4.5)(10.8,-4.5)(11.2,-4.5)(13,-4.5)(14.8,-4.5)(16.6,-4.5)(18,-4.5)(19.4,-4.5)(20.7,-4.5)(21.6,-4.5)(22.8,-4.5)(24,-4.5)(25.2,-4.5)(26.4,-4.5)(27.4,-4.5)(28,-4.5)(29.8,-4.5)(33,-4.5)(34,-4.5)(35.7,-4.5)(37.5,-4.5)(38.4,-4.5)(39.6,-4.5)(40.8,-4.5)(42,-4.5)(43.2,-4.5)(44.4,-4.5)(45.6,-4.5)(47,-4.5)
(2.6,-6)(3,-6)(4.2,-6)(5.4,-6)(6.6,-6)(7.8,-6)(9,-6)(10.2,-6)(11.2,-6)(14.4,-6)(15.2,-6)(16.2,-6)(17.6,-6)(19,-6)(20.7,-6)(21.6,-6)(22.8,-6)(24,-6)(25.2,-6)(26.4,-6)(27.4,-6)(28.4,-6)(29.8,-6)(31.2,-6)(32.4,-6)(33.4,-6)(36.6,-6)(37.8,-6)(39,-6)(40.2,-6)(41.4,-6)(42.6,-6)(43.8,-6)(45,-6)(46.2,-6)(47.5,-6)
(3,-7.5)(6.7,-7.5)(7.8,-7.5)(9,-7.5)(10.2,-7.5)(11.6,-7.5)(14.4,-7.5)(15.2,-7.5)(17.6,-7.5)(19,-7.5)(20.4,-7.5)(21.6,-7.5)(22.8,-7.5)(24,-7.5)(25.2,-7.5)(26.4,-7.5)(28,-7.5)(29.4,-7.5)(30.6,-7.5)(31.6,-7.5)(33,-7.5)(38.4,-7.5)(40.2,-7.5)(41.4,-7.5)(42.6,-7.5)(43.8,-7.5)(45.6,-7.5)
(3.8,-9)(4.8,-9)(6,-9)(7.2,-9)(9,-9)(14,-9)(15.2,-9)(18,-9)(19.8,-9)(21.6,-9)(22.8,-9)(24,-9)(25.2,-9)(26.4,-9)(27.6,-9)(28.4,-9)(30.7,-9)(32,-9)(33,-9)(34.8,-9)(36,-9)(37.5,-9)(42,-9)(45.6,-9)
(3,-10.5)(4.2,-10.5)(5.4,-10.5)(6.6,-10.5)(7.8,-10.5)(9.4,-10.5)(14.8,-10.5)(16.2,-10.5)(17.4,-10.5)(18.6,-10.5)(19.8,-10.5)(21.2,-10.5)(23,-10.5)(24.6,-10.5)(25.8,-10.5)(27,-10.5)(28.4,-10.5)(33,-10.5)(34.2,-10.5)(35.4,-10.5)(36.6,-10.5)(37.8,-10.5)(39.8,-10.5)(40.9,-10.5)
(4.4,-12)(5.4,-12)(6.6,-12)(7.6,-12)(9,-12)(14.4,-12)(15.6,-12)(16.8,-12)(18,-12)(19.2,-12)(21.2,-12)(24.3,-12)(25.2,-12)(26.4,-12)(27.6,-12)(28.8,-12)(29.8,-12)(32,-12)(33.6,-12)(34.8,-12)(36,-12)(37.2,-12)(38.4,-12)(39.8,-12)(42.5,-12)
(4,-13.5)(5.8,-13.5)(7.6,-13.5)(9,-13.5)(14.4,-13.5)(15.6,-13.5)(17.4,-13.5)(18.6,-13.5)(20.3,-13.5)(22,-13.5)(23.2,-13.5)(24.3,-13.5)(25.7,-13.5)(27,-13.5)(28.2,-13.5)(29.8,-13.5)(31.6,-13.5)(32.4,-13.5)(33.6,-13.5)(34.8,-13.5)(36,-13.5)(37.2,-13.5)(38.9,-13.5)(41.6,-13.5)
(4.8,-15)(5.8,-15)(9,-15)(14,-15)(15,-15)(16.2,-15)(17.4,-15)(19.4,-15)(21.2,-15)(22.2,-15)(23.9,-15)(27.5,-15)(28.8,-15)(30,-15)(31.2,-15)(33.4,-15)(34.8,-15)(36,-15)(37.2,-15)(38.4,-15)(39.3,-15)
(14,-16)(15.3,-16.5)(16.8,-16.5)(18,-16.5)(19,-16.5)(20.3,-16.5)(21.6,-16.5)(22.8,-16.5)(24.8,-16.5)(28,-16.5)(29.4,-16.5)(30.6,-16.5)(31.6,-16.5)(33.4,-16.5)(34.8,-16.5)(36.6,-16.5)(37.8,-16.5)(39.3,-16.5)
(12.1,-18)(13.2,-18)(15,-18)(17,-18)(18,-18)(19.2,-18)(20.4,-18)(21.6,-18)(22.8,-18)(24,-18)(25.7,-18)(28.4,-18)(29.4,-18)(30.6,-18)(32,-18)(33.4,-18)(34.8,-18)(35.7,-18)(36.6,-18)(37.8,-18)(38.9,-18)
(10.5,-19)(12.1,-19.5)(13,-19.5)(14.2,-19)(15.7,-19.5)(16.8,-19.5)(18,-19.5)(19.2,-19.5)(20.4,-19.5)(21.6,-19.5)(22.8,-19.5)(24,-19.5)(25.2,-19.5)(26.4,-19.5)(27.6,-19.5)(28.8,-19.5)(29.8,-19.5)(37,-19.5)(38.9,-19.5)
(1.2,-21)(2.6,-21)(3.7,-20.2)(12.6,-21)(13.8,-21)(15,-21)(16.2,-21)(17.4,-21)(18.6,-21)(19.8,-21)(21,-21)(22.2,-21)(23.4,-21)(24.6,-21)(25.8,-21)(27.5,-21)(30.7,-21)(36.6,-21)(38.9,-21)
(2.2,-22.5)(3.6,-22.5)(4.9,-22.5)(10.3,-22.5)(13.5,-22.5)(14.4,-22.5)(15.6,-22.5)(16.8,-22.5)(18,-22.5)(19.2,-22.5)(20.4,-22.5)(21.6,-22.5)(22.8,-22.5)(24,-22.5)(25.2,-22.5)(26.4,-22.5)(27.6,-22.5)(28.9,-22.5)(31.2,-22.5)
(3.1,-24)(4.2,-24)(5.8,-24)(6.7,-24.2)(14.8,-24)(16.2,-24)(17.4,-24)(18.6,-24)(19.8,-24)(21,-24)(23,-24)(23.9,-24)(28.2,-24.5)(32.3,-24.5)
(3.1,-25.5)(4.4,-25.5)(11.7,-25.5)(12.6,-25.5)(15.3,-25.5)(16.8,-25.5)(18,-25.5)(19,-25.5)(20.7,-25.5)
(3.1,-27)(3.5,-27)(4.9,-27)(11.2,-27)(14,-27)(15,-27)(16.2,-27)(17.4,-27)(18.6,-27)(19.8,-27)(21.2,-27)
(4.4,-28.5)(5.4,-28.5)(6.2,-28.5)(14.4,-28.5)(15.6,-28.5)(16.8,-28.5)(18,-28.5)(19.2,-28.5)(20.4,-28.5)(21.6,-28.5)(23,-28.5)
(2.6,-30)(3.6,-30)(4.9,-30)(10.3,-30)(12,-30)(13.5,-30)(14.4,-30)(15.6,-30)(16.8,-30)(18,-30)(19.2,-30)(20.3,-30)
(1.7,-31.5)(3,-31.5)(4,-31.5)(11.2,-31.5)(12.6,-31.5)(13.8,-31.5)(15,-31.5)(16.2,-31.5)(17.4,-31.5)(18.4,-31.5)(19.4,-31.5)
(2.2,-33)(3.7,-33)(9.6,-33)(11.2,-33)(12,-33)(13.2,-33)(14.4,-33)(15.6,-33)(16.8,-33)(17.6,-33)(19.4,-33)
(1.2,-34.5)(11.7,-34.5)(12.6,-34.5)(13.8,-34.5)(15,-34.5)(16.2,-34.5)(17.1,-34.5)(.8,-36)(12.6,-36)(13.5,-36)
};
\addlegendentry{PACS (Sketch)}
\end{axis}
\node[font=\titlefont\fontsize{24.3}{28}\selectfont,anchor=base] at (232.5,366) {DDM with Clustering};
\node[font=\titlefont\fontsize{24.3}{28}\selectfont,anchor=base] at (646,366) {DDM with Robust Clustering};
\end{tikzpicture}
\end{document}
